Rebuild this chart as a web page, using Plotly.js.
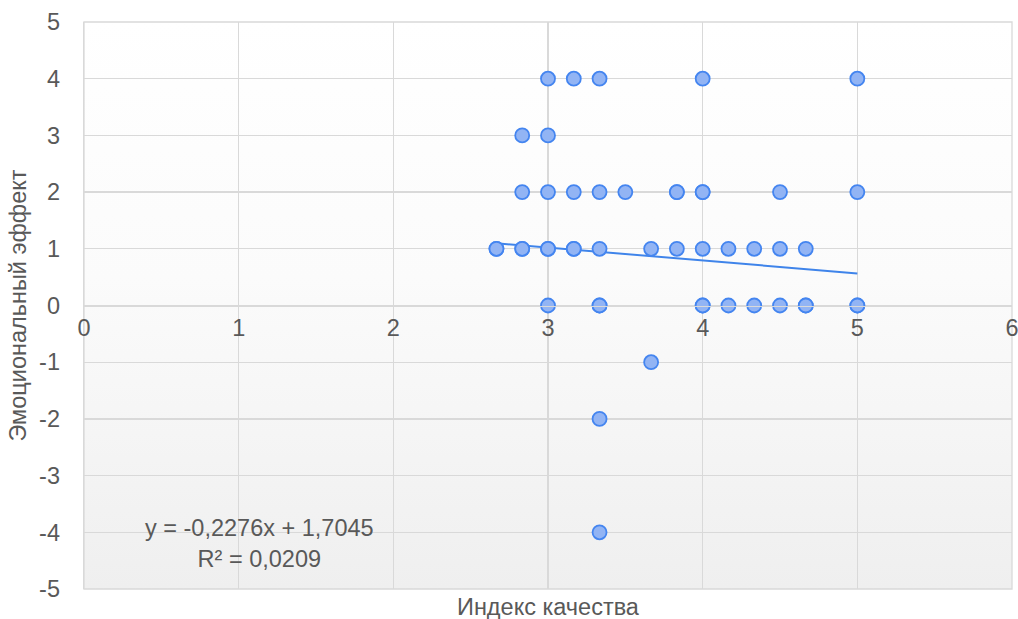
<!DOCTYPE html>
<html>
<head>
<meta charset="utf-8">
<script src="https://cdn.plot.ly/plotly-3.0.1.min.js"></script>
<style>
  html, body { margin: 0; padding: 0; background: #ffffff; }
  #wrap { position: relative; width: 1018px; height: 619px; }
  #bg { position: absolute; left: 84px; top: 22px; width: 928px; height: 567px;
        background: linear-gradient(to bottom, #ffffff 0%, #fbfbfb 45%, #efefef 100%); }
  #chart { position: absolute; left: 0; top: 0; width: 1018px; height: 619px; }
</style>
</head>
<body>
<div id="wrap"><div id="bg"></div><div id="chart"></div></div>
<script>
// Quality index (x) and emotional effect (y) observations
const qualityIndex = [
  3, 3.1667, 3.3333, 4, 5,
  2.8333, 3,
  2.8333, 3, 3.1667, 3.3333, 3.5, 3.8333, 3.8333, 4, 4, 4.5, 5,
  2.6667, 2.6667, 2.8333, 2.8333, 3, 3, 3.1667, 3.1667, 3.3333, 3.6667, 3.8333, 4, 4.1667, 4.3333, 4.5, 4.6667,
  3, 3.3333, 3.3333, 4, 4, 4.1667, 4.3333, 4.5, 4.6667, 4.6667, 5, 5,
  3.6667,
  3.3333,
  3.3333
];
const emotionalEffect = [
  4, 4, 4, 4, 4,
  3, 3,
  2, 2, 2, 2, 2, 2, 2, 2, 2, 2, 2,
  1, 1, 1, 1, 1, 1, 1, 1, 1, 1, 1, 1, 1, 1, 1, 1,
  0, 0, 0, 0, 0, 0, 0, 0, 0, 0, 0, 0,
  -1,
  -2,
  -4
];
// Linear trend (as printed on the chart)
const trendSlope = -0.2276;
const trendIntercept = 1.7045;
const trendR2 = 0.0209;
const xTicks = [0, 1, 2, 3, 4, 5, 6];
const yTicks = [-5, -4, -3, -2, -1, 0, 1, 2, 3, 4, 5];

const xMin = Math.min(...qualityIndex), xMax = Math.max(...qualityIndex);
const trendX = [xMin, xMax];
const trendY = trendX.map(v => trendSlope * v + trendIntercept);

const fmt = (v) => v.toFixed(4).replace('.', ',');
const eqText = 'y = ' + fmt(trendSlope) + 'x + ' + fmt(trendIntercept) + '<br>R² = ' + fmt(trendR2);

const textColor = '#595959';
const gridColor = '#d9d9d9';
const fontFam = '"Liberation Sans", Arial, sans-serif';
const fs = 23.5;

const data = [
  {
    x: trendX, y: trendY, type: 'scatter', mode: 'lines',
    line: { color: '#3f84ea', width: 2 }, hoverinfo: 'skip', showlegend: false
  },
  {
    x: qualityIndex, y: emotionalEffect, type: 'scatter', mode: 'markers',
    marker: { size: 14, color: '#92b4f4', line: { color: '#4485f0', width: 1.8 } },
    showlegend: false
  }
];

const layout = {
  width: 1018, height: 619,
  margin: { l: 84, r: 6, t: 22, b: 30 },
  paper_bgcolor: 'rgba(0,0,0,0)',
  plot_bgcolor: 'rgba(0,0,0,0)',
  font: { family: fontFam, size: fs, color: textColor },
  xaxis: {
    range: [0, 6], tickvals: xTicks, ticktext: xTicks.map(String),
    showgrid: true, gridcolor: gridColor, gridwidth: 1.3,
    zeroline: false, showline: true, linecolor: gridColor, linewidth: 1.3,
    anchor: 'free', position: 0.5,
    ticks: 'outside', ticklen: 1, tickcolor: 'rgba(0,0,0,0)',
    ticklabeloverflow: 'allow',
    tickfont: { family: fontFam, size: fs, color: textColor },
    fixedrange: true
  },
  yaxis: {
    range: [-5, 5], tickvals: yTicks, ticktext: yTicks.map(String),
    showgrid: true, gridcolor: gridColor, gridwidth: 1.3,
    zeroline: false, showline: true, linecolor: gridColor, linewidth: 1.3,
    ticks: 'outside', ticklen: 18, tickcolor: 'rgba(0,0,0,0)',
    ticklabeloverflow: 'allow',
    tickfont: { family: fontFam, size: fs, color: textColor },
    title: { text: 'Эмоциональный эффект', font: { family: fontFam, size: fs, color: textColor }, standoff: 6 },
    fixedrange: true
  },
  shapes: [
    { type: 'rect', xref: 'paper', yref: 'paper', x0: 0, x1: 1, y0: 0, y1: 1,
      line: { color: gridColor, width: 1.3 }, fillcolor: 'rgba(0,0,0,0)', layer: 'below' }
  ],
  annotations: [
    { text: 'Индекс качества', xref: 'paper', yref: 'paper', x: 0.5, y: 0, yshift: -18,
      xanchor: 'center', yanchor: 'middle', showarrow: false,
      font: { family: fontFam, size: fs, color: textColor } },
    { text: eqText, xref: 'paper', yref: 'paper', x: 0.1886, y: 0.081,
      xanchor: 'center', yanchor: 'middle', showarrow: false, align: 'center',
      font: { family: fontFam, size: fs, color: textColor } }
  ]
};

Plotly.newPlot('chart', data, layout, { displayModeBar: false, staticPlot: true });
</script>
</body>
</html>
